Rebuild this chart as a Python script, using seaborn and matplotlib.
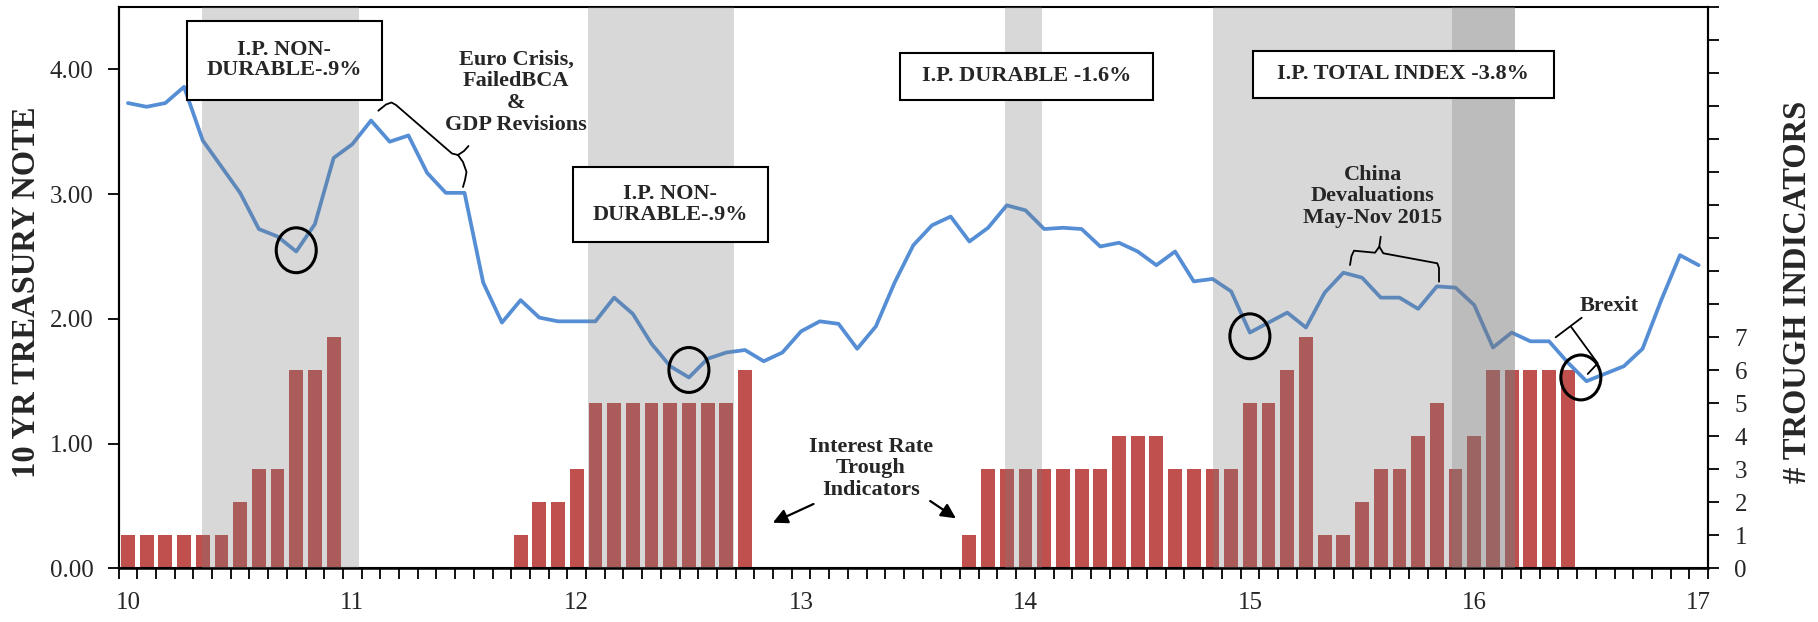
import matplotlib
matplotlib.use('Agg')
import matplotlib.pyplot as plt
from matplotlib.patches import Ellipse, Rectangle
from matplotlib.transforms import Affine2D
import seaborn as sns
import numpy as np
import pandas as pd

# monthly data, Jan 2010 .. Jan 2017
treasury = [3.73, 3.70, 3.73, 3.86, 3.43, 3.22, 3.01, 2.72, 2.66, 2.54, 2.76, 3.29,
            3.40, 3.59, 3.42, 3.47, 3.17, 3.01, 3.01, 2.29, 1.97, 2.15, 2.01, 1.98,
            1.98, 1.98, 2.17, 2.04, 1.80, 1.62, 1.53, 1.68, 1.73, 1.75, 1.66, 1.73,
            1.90, 1.98, 1.96, 1.76, 1.94, 2.29, 2.59, 2.75, 2.82, 2.62, 2.73, 2.91,
            2.87, 2.72, 2.73, 2.72, 2.58, 2.61, 2.54, 2.43, 2.54, 2.30, 2.32, 2.22,
            1.89, 1.97, 2.05, 1.93, 2.21, 2.37, 2.33, 2.17, 2.17, 2.08, 2.26, 2.25,
            2.11, 1.77, 1.89, 1.82, 1.82, 1.65, 1.50, 1.56, 1.62, 1.76, 2.15, 2.51, 2.43]

troughs = [1, 1, 1, 1, 1, 1, 2, 3, 3, 6, 6, 7,
           0, 0, 0, 0, 0, 0, 0, 0, 0, 1, 2, 2,
           3, 5, 5, 5, 5, 5, 5, 5, 5, 6, 0, 0,
           0, 0, 0, 0, 0, 0, 0, 0, 0, 1, 3, 3,
           3, 3, 3, 3, 3, 4, 4, 4, 3, 3, 3, 3,
           5, 5, 6, 7, 1, 1, 2, 3, 3, 4, 5, 3,
           4, 6, 6, 6, 6, 6, 0, 0, 0, 0, 0, 0, 0]

year_labels = ['10', '11', '12', '13', '14', '15', '16', '17']

# shaded periods (in months from Jan 2010)
shade_start = [3.96, 24.6, 46.9, 58.05, 70.8]
shade_end = [12.33, 32.43, 48.86, 74.18, 74.18]

# circled troughs
circle_month = [9, 30, 60, 77.7]
circle_rate = [2.55, 1.59, 1.86, 1.53]

BAR = '#c0504d'
LINE = '#558ed5'
SHADE = '#7a7a7a'

df = pd.DataFrame({'month': np.arange(len(treasury)), 'rate': treasury, 'troughs': troughs})

sns.set_style('white')
plt.rcParams['font.family'] = ['Liberation Serif', 'DejaVu Serif']

W, H = 1818, 622
fig = plt.figure(figsize=(W / 100, H / 100), dpi=100)
ax = fig.add_axes([118.6 / W, 1 - 568.3 / H, (1708 - 118.6) / W, (568.3 - 7) / H])
ax2 = ax.twinx()
ax.set_zorder(2)
ax2.set_zorder(1)
ax.patch.set_visible(False)

# pixel coordinates of the picture, for the notes
px = Affine2D().scale(1 / W, -1 / H).translate(0, 1) + fig.transFigure

sns.barplot(data=df, x='month', y='troughs', native_scale=True, color=BAR,
            saturation=1, width=0.74, linewidth=0, errorbar=None, ax=ax2)
sns.lineplot(data=df, x='month', y='rate', color=LINE, linewidth=2.7, ax=ax, zorder=2)

for s, e in zip(shade_start, shade_end):
    ax.axvspan(s, e, color=SHADE, alpha=0.29, lw=0, zorder=3)

ax.set_xlim(-0.5, len(treasury) - 0.5)
ax.set_ylim(0, 4.5)
ax2.set_ylim(0, 17)

ax.set_xticks(np.arange(0, len(treasury), 12))
ax.set_xticklabels(year_labels)
ax.set_xticks(np.arange(-0.5, len(treasury), 1), minor=True)
ax.tick_params(axis='x', which='major', bottom=True, length=0, pad=17, labelsize=18)
ax.tick_params(axis='x', which='minor', bottom=True, length=8, width=1.3,
               direction='out', color='black')
ax.set_yticks([0, 1, 2, 3, 4])
ax.set_yticklabels([f'{v:.2f}' for v in [0, 1, 2, 3, 4]])
ax.tick_params(axis='y', left=True, length=8, width=1.3, direction='out',
               color='black', labelsize=18, pad=10)
ax2.set_yticks(range(0, 18))
ax2.set_yticklabels([str(v) if v <= 7 else '' for v in range(0, 18)])
ax2.tick_params(axis='y', right=True, length=8, width=1.3, direction='out',
                color='black', labelsize=18, pad=11)
ax.set_xlabel('')
ax.set_ylabel('')
ax2.set_ylabel('')

for a in (ax, ax2):
    for side, sp in a.spines.items():
        sp.set_color('black')
        sp.set_linewidth(1.5)
ax.spines['bottom'].set_linewidth(1.8)
ax.spines['top'].set_linewidth(1.1)

fig.text(27 / W, 1 - 292 / H, '10 YR TREASURY NOTE', rotation=90, ha='center',
         va='center', fontsize=23.5, fontweight='bold')
fig.text(1797 / W, 1 - 292 / H, '# TROUGH INDICATORS', rotation=90, ha='center',
         va='center', fontsize=23.5, fontweight='bold')

# boxed notes: (centre x, centre y, width, height) in picture pixels
boxes = [('I.P. NON-\nDURABLE-.9%', 284.3, 60, 195, 79),
         ('I.P. NON-\nDURABLE-.9%', 670.4, 204.2, 195, 75),
         ('I.P. DURABLE -1.6%', 1026.3, 76, 253, 47),
         ('I.P. TOTAL INDEX -3.8%', 1403.3, 74.4, 301, 47)]
for txt, cx, cy, bw, bh in boxes:
    ax.add_patch(Rectangle((cx - bw / 2, cy - bh / 2), bw, bh, transform=px,
                           facecolor='white', edgecolor='black', lw=1.5,
                           zorder=5, clip_on=False))
    ax.text(cx, cy, txt, transform=px, ha='center', va='center', fontsize=16,
            fontweight='bold', linespacing=1.05, zorder=6)

notes = [('Euro Crisis,\nFailedBCA\n&\nGDP Revisions', 516, 92),
         ('China\nDevaluations\nMay-Nov 2015', 1372.8, 196.3),
         ('Brexit', 1609, 306),
         ('Interest Rate\nTrough\nIndicators', 870.9, 468.3)]
for txt, cx, cy in notes:
    ax.text(cx, cy, txt, transform=px, ha='center', va='center', fontsize=16,
            fontweight='bold', linespacing=1.12, zorder=6)

for m, r in zip(circle_month, circle_rate):
    ax.add_patch(Ellipse((m, r), 2.14, 0.36, fill=False, edgecolor='black',
                         lw=2.2, zorder=6))

# braces
braces = [
    [(378.3, 110.7), (386, 104.5), (391.5, 102.5), (396, 105), (452, 153.5), (458, 155)],
    [(458, 155), (464, 151), (468.5, 146)],
    [(458, 155), (463, 162), (466.5, 172), (465, 180), (463, 187)],
    [(1350, 265), (1351.5, 256), (1354, 250.7), (1375, 252.7), (1379.3, 246.7), (1380.7, 236.7)],
    [(1379.3, 246.7), (1383.3, 253.3), (1437.3, 263.3), (1439, 268), (1439, 281.7)],
    [(1555.7, 337.3), (1581.7, 317.7)],
    [(1571, 326.7), (1597.7, 363.3), (1587.7, 374)],
]
for pts in braces:
    xs, ys = zip(*pts)
    ax.plot(xs, ys, transform=px, color='black', lw=1.3, zorder=6, clip_on=False)

for tail, head in [((813.5, 504), (772.8, 522.7)), ((930.2, 501), (955.9, 518.3))]:
    ax.annotate('', xy=head, xytext=tail, xycoords=px, textcoords=px,
                arrowprops=dict(arrowstyle='-|>', color='black', lw=1.6,
                                mutation_scale=22, shrinkA=0, shrinkB=0),
                zorder=6)

fig.savefig('out.png', dpi=100)
